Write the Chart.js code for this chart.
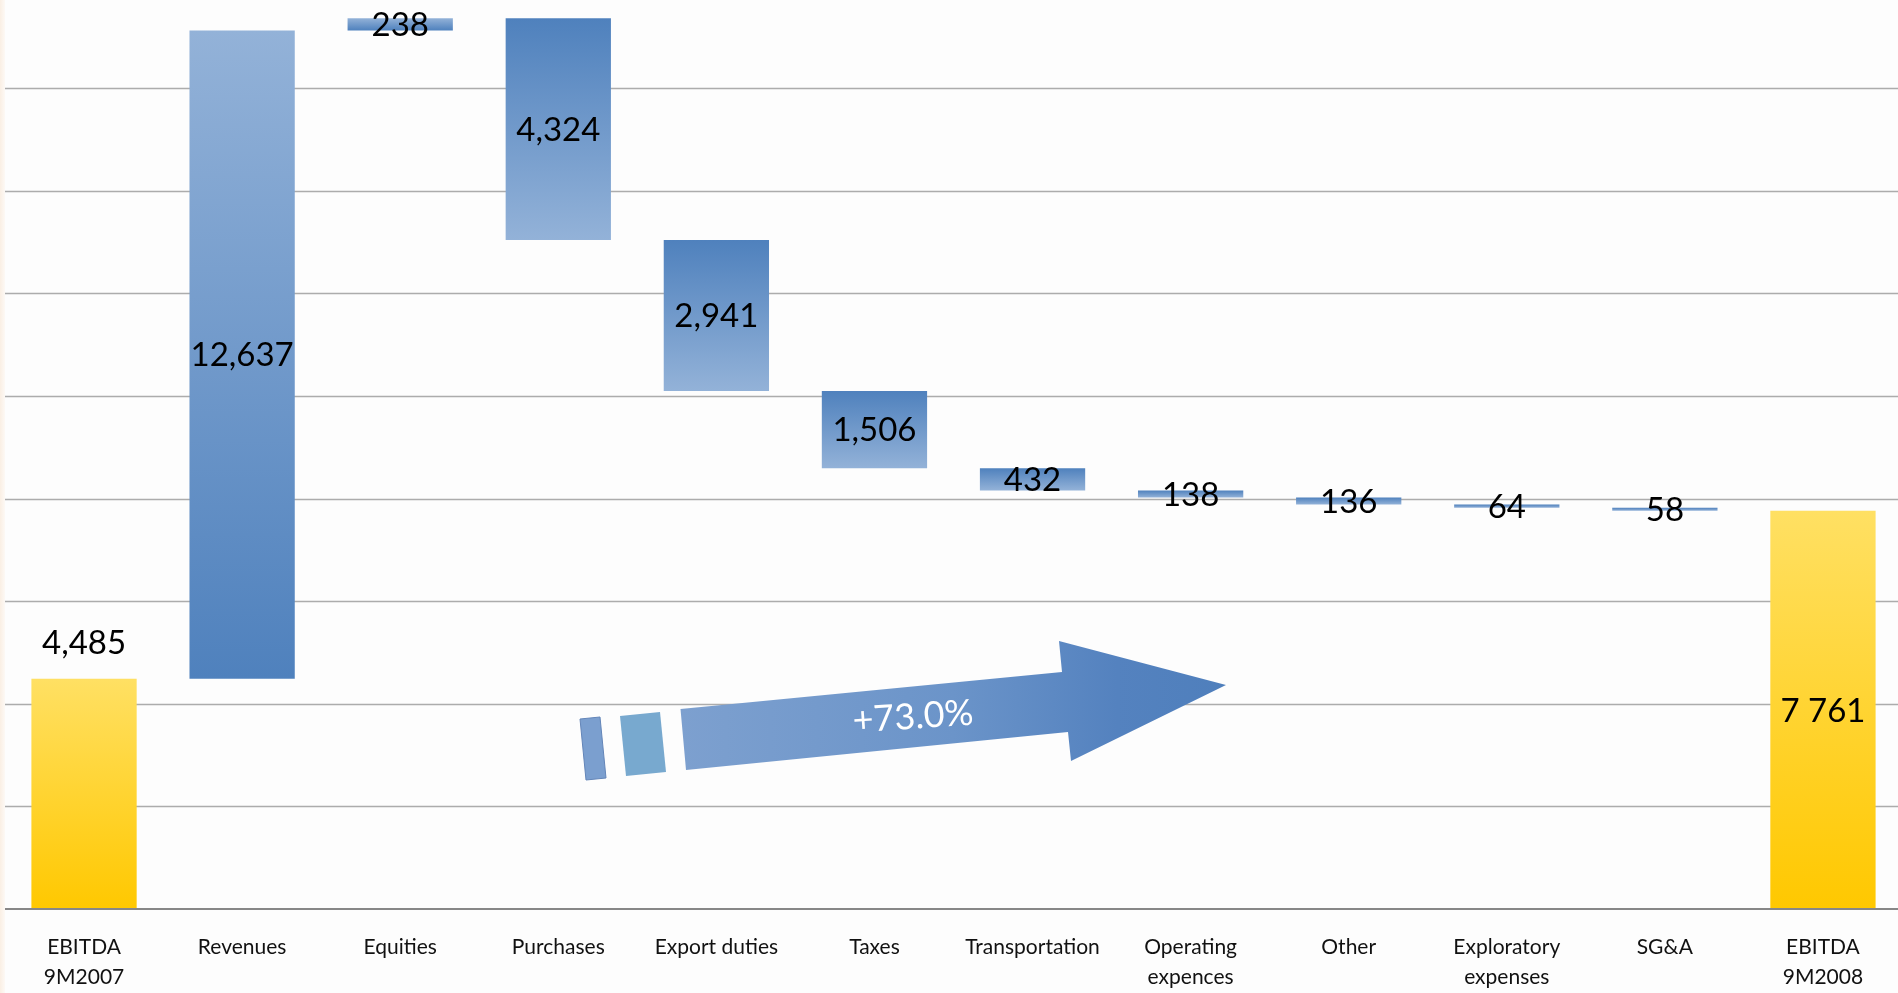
<!DOCTYPE html>
<html><head><meta charset="utf-8">
<script src="https://cdn.jsdelivr.net/npm/chart.js@4.4.1/dist/chart.umd.min.js"></script>
<style>
html,body{margin:0;padding:0;background:#fdfdfd;overflow:hidden;}
#wrap{position:relative;width:1898px;height:993px;overflow:hidden;}
#edge{position:absolute;left:0;top:0;width:5px;height:993px;background:linear-gradient(to right,#faefe4,#fdf9f5);}
canvas{position:absolute;left:0;top:0;}
</style></head><body>
<div id="wrap"><canvas id="c" width="1902" height="993"></canvas><div id="edge"></div></div>
<script>
// ---- data ----
const categories = [['EBITDA','9M2007'],'Revenues','Equities','Purchases','Export duties','Taxes','Transportation',['Operating','expences'],'Other',['Exploratory','expenses'],'SG&A',['EBITDA','9M2008']];
const changes = [4485, 12637, 238, -4324, -2941, -1506, -432, -138, -136, -64, -58, 7761];
const kinds = ['total','delta','delta','delta','delta','delta','delta','delta','delta','delta','delta','total'];
const valueLabels = ['4,485','12,637','238','4,324','2,941','1,506','432','138','136','64','58','7 761'];
const growthLabel = '+73.0%';
const gridStep = 2000;
const axisMax = 17715;

// floating ranges built from the values
const ranges = [];
let running = 0;
changes.forEach((v, i) => {
  if (kinds[i] === 'total') { ranges.push([0, v]); running = v; }
  else { ranges.push([running, running + v]); running += v; }
});

function barColor(c) {
  const chart = c.chart;
  const y = chart.scales && chart.scales.y;
  const i = c.dataIndex;
  if (!y || i === undefined) return '#4f81bd';
  const r = ranges[i];
  const top = y.getPixelForValue(Math.max(r[0], r[1]));
  const bot = y.getPixelForValue(Math.min(r[0], r[1]));
  if (!isFinite(top) || !isFinite(bot) || top === bot) return '#4f81bd';
  const g = chart.ctx.createLinearGradient(0, top, 0, bot);
  if (kinds[i] === 'total') { g.addColorStop(0, '#ffe063'); g.addColorStop(1, '#ffc800'); }
  else if (changes[i] > 0) { g.addColorStop(0, '#93b2d8'); g.addColorStop(1, '#4f81bd'); }
  else { g.addColorStop(0, '#4f81bd'); g.addColorStop(1, '#93b2d8'); }
  return g;
}

// horizontal gridlines drawn from the library's y scale
const gridPlugin = {
  id: 'hgrid',
  beforeDatasetsDraw(chart) {
    const y = chart.scales.y, a = chart.chartArea, ctx = chart.ctx;
    ctx.save();
    for (let v = gridStep; v <= y.max; v += gridStep) {
      const py = Math.round(y.getPixelForValue(v)) + 0.5;
      ctx.strokeStyle = '#acacac'; ctx.lineWidth = 1.6;
      ctx.beginPath(); ctx.moveTo(a.left, py); ctx.lineTo(a.right, py); ctx.stroke();
    }
    ctx.restore();
  }
};

const labelPlugin = {
  id: 'vlabels',
  afterDraw(chart) {
    const ctx = chart.ctx;
    // growth arrow annotation
    ctx.save();
    const ag = ctx.createLinearGradient(680, 0, 1226, 0);
    ag.addColorStop(0, '#7da0cf'); ag.addColorStop(0.5, '#6b94c9'); ag.addColorStop(0.8, '#5482bf'); ag.addColorStop(1, '#4f7fbc');
    ctx.fillStyle = ag;
    ctx.beginPath();
    [[680.5,709],[1062,672],[1059,641],[1226,685],[1071,761],[1068,732],[686,770]].forEach((p,k)=>k?ctx.lineTo(p[0],p[1]):ctx.moveTo(p[0],p[1]));
    ctx.closePath(); ctx.fill();
    ctx.fillStyle = '#7b9fcf'; ctx.strokeStyle = '#6385b8'; ctx.lineWidth = 1;
    ctx.beginPath();
    [[580,719],[600,717],[606,778],[586,780]].forEach((p,k)=>k?ctx.lineTo(p[0],p[1]):ctx.moveTo(p[0],p[1]));
    ctx.closePath(); ctx.fill(); ctx.stroke();
    ctx.fillStyle = '#78a9cf';
    ctx.beginPath();
    [[620,716],[660,712],[666,772],[626,776]].forEach((p,k)=>k?ctx.lineTo(p[0],p[1]):ctx.moveTo(p[0],p[1]));
    ctx.closePath(); ctx.fill();
    ctx.translate(913, 717); ctx.rotate(-4 * Math.PI / 180);
    ctx.fillStyle = '#ffffff'; ctx.font = '36px Lato'; ctx.textAlign = 'center'; ctx.textBaseline = 'middle';
    ctx.fillText(growthLabel, 0, 0);
    ctx.restore();

    // value labels
    const meta = chart.getDatasetMeta(0);
    ctx.save();
    ctx.font = '33px Lato'; ctx.fillStyle = '#000'; ctx.textAlign = 'center'; ctx.textBaseline = 'middle';
    meta.data.forEach((el, i) => {
      const p = el.getProps(['x', 'y', 'base'], true);
      const t = Math.min(p.y, p.base), b = Math.max(p.y, p.base);
      const ty = i === 0 ? t - 36 : (t + b) / 2 + 1;
      ctx.fillText(valueLabels[i], p.x, ty);
    });
    ctx.restore();
  }
};

function build() {
  new Chart(document.getElementById('c'), {
    type: 'bar',
    data: { labels: categories, datasets: [{ data: ranges, backgroundColor: barColor, borderWidth: 0, borderSkipped: false, barPercentage: 0.666, categoryPercentage: 1 }] },
    options: {
      responsive: false, animation: false, devicePixelRatio: 1,
      layout: { padding: { left: 0, right: 0, top: 0, bottom: 0 } },
      plugins: { legend: { display: false }, tooltip: { enabled: false } },
      scales: {
        x: {
          grid: { display: false, drawTicks: false },
          border: { display: true, color: '#878787', width: 2, z: 1 },
          ticks: { font: { family: 'Lato', size: 21, lineHeight: 1.45 }, color: '#111', padding: 23, maxRotation: 0, autoSkip: false },
          afterFit(s) { s.height = 84; }
        },
        y: {
          min: 0, max: axisMax,
          ticks: { display: false, stepSize: gridStep },
          grid: { display: false, drawTicks: false },
          border: { display: false },
          afterFit(s) { s.width = 5; }
        }
      }
    },
    plugins: [gridPlugin, labelPlugin]
  });
}
if (document.fonts && document.fonts.load) {
  Promise.all([document.fonts.load('33px Lato'), document.fonts.load('21px Lato')]).then(build, build);
} else build();
</script>
</body></html>
